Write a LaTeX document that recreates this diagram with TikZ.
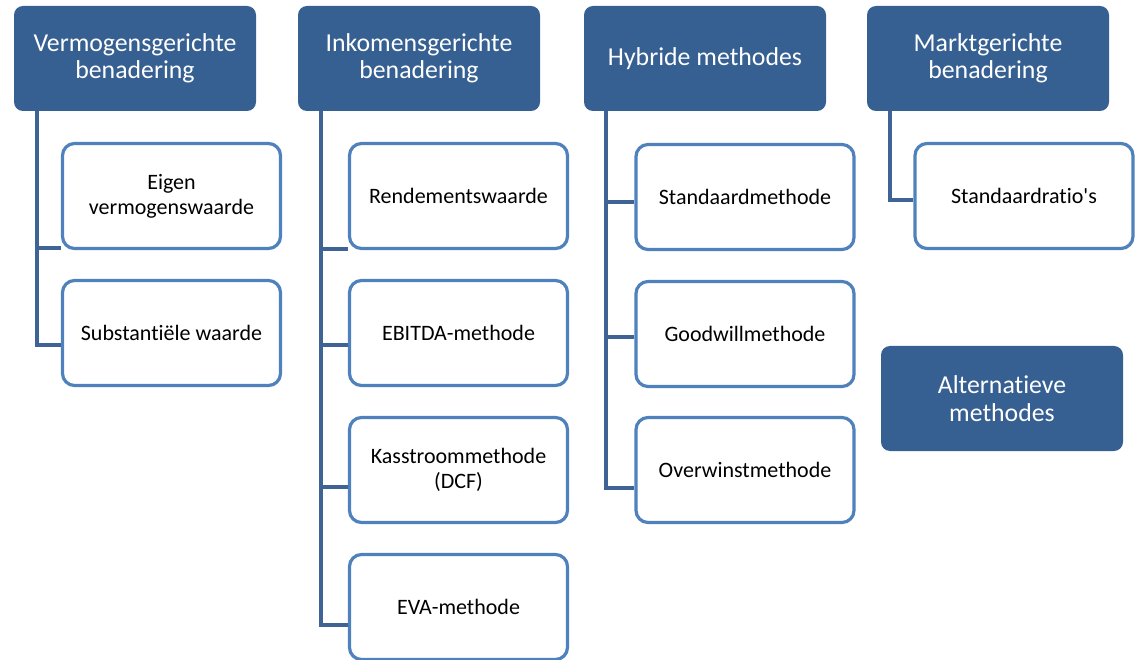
\documentclass[tikz,border=0pt]{standalone}
\usepackage{fontspec}
\setmainfont[RawFeature={-liga;-calt;-clig;-dlig}]{Carlito}
\definecolor{hdrblue}{RGB}{55,96,146}
\definecolor{bordblue}{RGB}{79,129,189}
\definecolor{linkblue}{RGB}{62,99,148}
\tikzset{
  hdr/.style={fill=hdrblue, draw=none, rounded corners=9pt, minimum width=242pt, minimum height=105pt,
    text=white, align=center, font=\fontsize{25.8}{27.5}\selectfont, inner sep=0pt},
  kid/.style={fill=white, draw=bordblue, line width=3.2pt, rounded corners=12pt, minimum width=218pt,
    minimum height=105pt, text=black, align=center, font=\fontsize{22}{25}\selectfont, inner sep=0pt},
  link/.style={draw=linkblue, line width=3.3pt}
}
\begin{document}
\begin{tikzpicture}[x=1pt,y=1pt]
\useasboundingbox (0,0) rectangle (1138,-660);
% headers
\node[hdr] (h1) at (135,-58.5) {Vermogensgerichte\\benadering};
\node[hdr] (h2) at (419,-58.5) {Inkomensgerichte\\benadering};
\node[hdr] (h3) at (705,-58.5) {Hybride methodes};
\node[hdr] (h4) at (988,-58.5) {Marktgerichte\\benadering};
\node[hdr] (alt) at (1002,-398.5) {Alternatieve\\methodes};
% trunks
\coordinate (t1) at (37,-111);
\coordinate (t2) at (321,-111);
\coordinate (t3) at (606,-111);
\coordinate (t4) at (890,-111);
% children
\node[kid] (c11) at (171.5,-196) {Eigen\\vermogenswaarde};
\node[kid] (c12) at (171.5,-333) {Substanti\"ele waarde};
\node[kid] (c21) at (458.5,-196) {Rendementswaarde};
\node[kid] (c22) at (458.5,-333) {EBITDA-methode};
\node[kid] (c23) at (458.5,-470) {Kasstroommethode\\(DCF)};
\node[kid] (c24) at (458.5,-607) {EVA-methode};
\node[kid] (c31) at (745,-197) {Standaardmethode};
\node[kid] (c32) at (745,-334) {Goodwillmethode};
\node[kid] (c33) at (745,-470) {Overwinstmethode};
\node[kid] (c41) at (1024,-196) {Standaardratio\textquotesingle s};
% connectors
\draw[link] (t1) |- ([yshift=-52pt]c11.west);
\draw[link] (t1) |- ([yshift=-12pt]c12.west);
\draw[link] (t2) |- ([yshift=-53pt]c21.west);
\draw[link] (t2) |- ([yshift=-12pt]c22.west);
\draw[link] (t2) |- ([yshift=-17pt]c23.west);
\draw[link] (t2) |- ([yshift=-18pt]c24.west);
\draw[link] (t3) |- ([yshift=-5pt]c31.west);
\draw[link] (t3) |- ([yshift=-3pt]c32.west);
\draw[link] (t3) |- ([yshift=-18pt]c33.west);
\draw[link] (t4) |- ([yshift=-4pt]c41.west);
\end{tikzpicture}
\end{document}
